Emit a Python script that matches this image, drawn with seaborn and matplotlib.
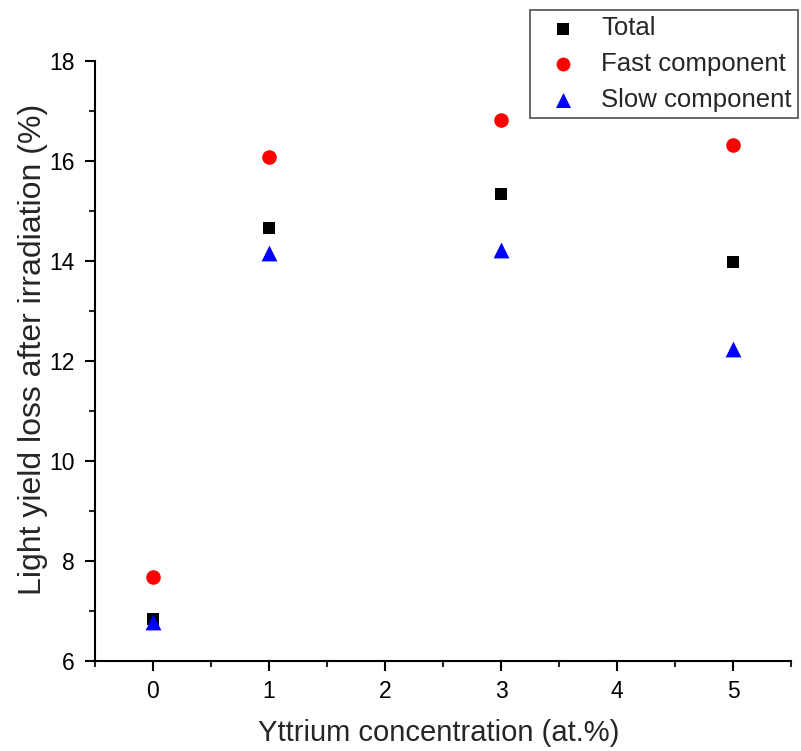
import matplotlib
matplotlib.use("Agg")
import matplotlib.pyplot as plt
import seaborn as sns
import pandas as pd
from matplotlib.ticker import MultipleLocator

sns.set_theme(style="ticks")
plt.rcParams['font.family'] = ['Liberation Sans', 'DejaVu Sans']

concentration = [0, 1, 3, 5]
total = [6.84, 14.66, 15.34, 13.98]
fast = [7.68, 16.08, 16.82, 16.32]
slow = [6.78, 14.16, 14.22, 12.24]

fig = plt.figure(figsize=(8.01, 7.51), dpi=100)
ax = fig.add_axes([0.1186, 0.1198, 0.8689, 0.799])

sns.scatterplot(x=concentration, y=total, ax=ax, marker='s', color='black',
                s=80, edgecolor='black', linewidth=0, label='Total', zorder=3)
sns.scatterplot(x=concentration, y=fast, ax=ax, marker='o', color='red',
                s=110, edgecolor='red', linewidth=0, label='Fast component', zorder=3)
sns.scatterplot(x=concentration, y=slow, ax=ax, marker='^', color='blue',
                s=130, edgecolor='blue', linewidth=0, label='Slow component', zorder=4)

ax.set_xlim(-0.5, 5.5)
ax.set_ylim(6, 18)
ax.xaxis.set_major_locator(MultipleLocator(1))
ax.xaxis.set_minor_locator(MultipleLocator(0.5))
ax.yaxis.set_major_locator(MultipleLocator(2))
ax.yaxis.set_minor_locator(MultipleLocator(1))
ax.tick_params(which='major', direction='out', length=7.5, width=1.5, labelsize=16.5, colors='black')
ax.tick_params(axis='x', which='major', pad=6.5)
ax.tick_params(axis='y', which='major', pad=7)
ax.tick_params(which='minor', direction='out', length=4, width=1.5)
for side in ['top', 'right']:
    ax.spines[side].set_visible(False)
for side in ['left', 'bottom']:
    ax.spines[side].set_linewidth(1.5)
    ax.spines[side].set_color('black')

ax.set_xlabel('Yttrium concentration (at.%)', fontsize=21)
ax.set_ylabel('Light yield loss after irradiation (%)', fontsize=23)
ax.xaxis.set_label_coords(0.494, -0.0967)
ax.yaxis.set_label_coords(-0.0675, 0.52)

leg = ax.legend(loc='upper right', bbox_to_anchor=(798 / 801, (751 - 10) / 751),
                bbox_transform=fig.transFigure, borderaxespad=0, fontsize=18.5,
                frameon=True, fancybox=False, edgecolor='#222222',
                handlelength=2.0, handletextpad=0.5, borderpad=0.25,
                labelspacing=0.45, markerscale=0.95)
leg.get_frame().set_linewidth(1.2)

fig.savefig('out.png', dpi=100)
